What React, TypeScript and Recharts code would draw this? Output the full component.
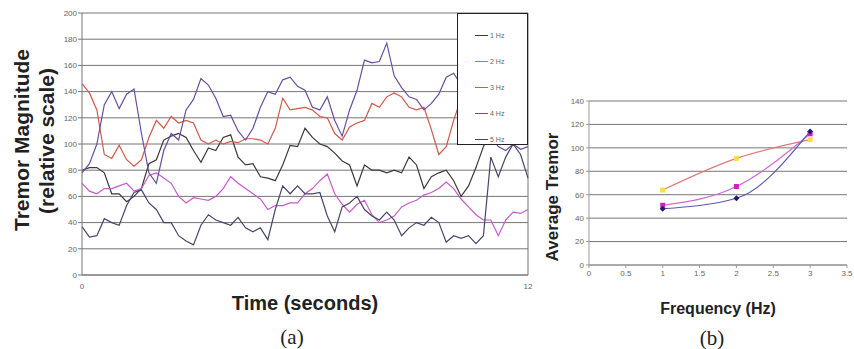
import React from 'react';
import { LineChart, Line, XAxis, YAxis, CartesianGrid, Legend, ReferenceLine } from 'recharts';

// (a) tremor traces, sampled every 0.2 s
const TIME = [
  0, 0.2, 0.4, 0.6, 0.8, 1, 1.2, 1.4, 1.6, 1.8, 2, 2.2, 2.4, 2.6, 2.8, 3, 3.2, 3.4, 3.6, 3.8,
  4, 4.2, 4.4, 4.6, 4.8, 5, 5.2, 5.4, 5.6, 5.8, 6, 6.2, 6.4, 6.6, 6.8, 7, 7.2, 7.4, 7.6, 7.8,
  8, 8.2, 8.4, 8.6, 8.8, 9, 9.2, 9.4, 9.6, 9.8, 10, 10.2, 10.4, 10.6, 10.8, 11, 11.2, 11.4, 11.6, 11.8, 12,
];
const HZ1 = [
  80, 82, 82, 78, 62, 62, 56, 60, 66, 85, 88, 103, 106, 108, 105, 95, 86, 97, 95, 105,
  107, 90, 84, 85, 75, 74, 72, 84, 99, 98, 112, 105, 100, 98, 93, 87, 84, 68, 84, 80,
  80, 78, 80, 78, 90, 84, 66, 75, 78, 80, 72, 60, 68, 82, 98, 110, 118, 120, 125, 118, 120,
];
const HZ2 = [
  70, 64, 62, 66, 66, 68, 70, 64, 66, 76, 78, 74, 70, 60, 55, 59, 58, 57, 60, 66,
  75, 70, 66, 62, 58, 50, 53, 53, 55, 55, 62, 66, 72, 77, 62, 54, 48, 54, 57, 46,
  40, 42, 45, 52, 55, 57, 61, 63, 66, 71, 66, 58, 52, 46, 42, 42, 30, 42, 48, 47, 50,
];
const HZ3 = [
  146, 139, 126, 92, 89, 99, 88, 83, 88, 105, 118, 112, 121, 116, 118, 116, 103, 100, 103, 100,
  102, 101, 104, 104, 103, 100, 112, 135, 126, 127, 128, 126, 121, 120, 108, 103, 113, 116, 118, 131,
  128, 136, 139, 136, 128, 126, 128, 111, 92, 98, 118, 135, 140, 138, 135, 140, 138, 132, 136, 130, 128,
];
const HZ4 = [
  78, 85, 100, 130, 140, 127, 138, 142, 108, 78, 70, 95, 108, 103, 126, 134, 150, 145, 135, 121,
  122, 110, 103, 112, 128, 140, 138, 149, 151, 144, 141, 128, 126, 136, 118, 106, 126, 141, 164, 162,
  163, 177, 152, 143, 136, 134, 126, 131, 138, 151, 154, 145, 135, 125, 115, 105, 98, 95, 100, 96, 98,
];
const HZ5 = [
  37, 29, 30, 43, 40, 38, 53, 63, 65, 55, 50, 40, 40, 30, 26, 23, 38, 46, 42, 40,
  38, 44, 36, 33, 36, 27, 50, 68, 62, 68, 62, 62, 63, 45, 33, 52, 55, 60, 50, 45,
  42, 48, 42, 30, 36, 40, 38, 44, 40, 25, 30, 28, 30, 24, 30, 90, 75, 90, 100, 92, 74,
];
const SERIES_A = [
  { key: 'hz1', name: '1 Hz', color: '#3a3a3a', values: HZ1 },
  { key: 'hz2', name: '2 Hz', color: '#c75ac7', values: HZ2 },
  { key: 'hz3', name: '3 Hz', color: '#d4574a', values: HZ3 },
  { key: 'hz4', name: '4 Hz', color: '#6a4e9e', values: HZ4 },
  { key: 'hz5', name: '5 Hz', color: '#46466c', values: HZ5 },
];
const Y_TICKS_A = [0, 20, 40, 60, 80, 100, 120, 140, 160, 180, 200];
const X_TICKS_A = [0, 12];

// (b) average tremor per frequency
const FREQ = [1, 2, 3];
const AVG_NAVY = [48, 57, 114];
const AVG_MAGENTA = [51, 67, 112];
const AVG_YELLOW = [64, 91, 107];
const Y_TICKS_B = [0, 20, 40, 60, 80, 100, 120, 140];
const X_TICKS_B = [0, 0.5, 1, 1.5, 2, 2.5, 3, 3.5];

const dataA = TIME.map((t, i) => {
  const row: any = { t };
  SERIES_A.forEach((s) => (row[s.key] = s.values[i]));
  return row;
});
const dataB = FREQ.map((f, i) => ({ f, navy: AVG_NAVY[i], magenta: AVG_MAGENTA[i], yellow: AVG_YELLOW[i] }));

const SANS = '"Liberation Sans", Arial, sans-serif';
const SERIF = '"Liberation Serif", "Times New Roman", serif';
const tickStyle = { fontSize: 8, fill: '#666', fontFamily: SANS };
const GRID = '#767676';

const LegendBox = (props: any) => {
  const { payload } = props;
  return (
    <div
      style={{
        width: 71,
        height: 132,
        boxSizing: 'border-box',
        border: '1px solid #222',
        background: '#fff',
        paddingTop: 8,
        fontFamily: SANS,
      }}
    >
      {(payload || []).map((p: any) => (
        <div key={p.value} style={{ display: 'flex', alignItems: 'center', height: 26, paddingLeft: 17 }}>
          <span style={{ display: 'inline-block', width: 13, height: 1, background: p.color, marginRight: 2 }} />
          <span style={{ fontSize: 7, color: '#666' }}>{p.value}</span>
        </div>
      ))}
    </div>
  );
};

const Diamond = (props: any) => {
  const { cx, cy, index } = props;
  if (cx == null || cy == null) return null;
  return (
    <polygon
      key={`d-${index}`}
      points={`${cx},${cy - 3} ${cx + 3},${cy} ${cx},${cy + 3} ${cx - 3},${cy}`}
      fill="#1c1c70"
    />
  );
};
const squareDot = (fill: string) => (props: any) => {
  const { cx, cy, index } = props;
  if (cx == null || cy == null) return null;
  return <rect key={`s-${fill}-${index}`} x={cx - 2.5} y={cy - 2.5} width={5} height={5} fill={fill} />;
};

const textBase: React.CSSProperties = {
  position: 'absolute',
  whiteSpace: 'nowrap',
  transform: 'translate(-50%, -50%)',
  color: '#222',
  lineHeight: 1,
};

export default function App() {
  return (
    <div style={{ position: 'absolute', left: 0, top: 0, width: 854, height: 349, background: '#fff', overflow: 'hidden' }}>
      <div style={{ position: 'absolute', left: 0, top: 0 }}>
        <LineChart width={540} height={300} data={dataA} margin={{ top: 13, right: 12, bottom: 5, left: 52 }}>
          <CartesianGrid vertical={false} stroke={GRID} />
          <XAxis
            dataKey="t"
            type="number"
            domain={[0, 12]}
            ticks={X_TICKS_A}
            height={20}
            tick={tickStyle}
            tickLine={false}
            axisLine={{ stroke: GRID }}
          />
          <YAxis
            type="number"
            domain={[0, 200]}
            ticks={Y_TICKS_A}
            width={30}
            tick={tickStyle}
            tickSize={4}
            tickMargin={1}
            axisLine={{ stroke: GRID }}
            tickLine={{ stroke: GRID }}
          />
          <ReferenceLine x={12} stroke={GRID} />
          {SERIES_A.map((s) => (
            <Line
              key={s.key}
              dataKey={s.key}
              name={s.name}
              stroke={s.color}
              strokeWidth={1.2}
              dot={false}
              type="linear"
              isAnimationActive={false}
            />
          ))}
          <Legend
            layout="vertical"
            align="center"
            verticalAlign="middle"
            content={LegendBox}
            wrapperStyle={{ left: 457, top: 13, width: 71, height: 132 }}
          />
        </LineChart>
      </div>

      <div style={{ position: 'absolute', left: 540, top: 80 }}>
        <LineChart width={314} height={210} data={dataB} margin={{ top: 21, right: 7, bottom: 5, left: 19 }}>
          <CartesianGrid vertical={false} stroke={GRID} />
          <XAxis
            dataKey="f"
            type="number"
            domain={[0, 3.5]}
            ticks={X_TICKS_B}
            height={20}
            tick={tickStyle}
            tickSize={3}
            axisLine={{ stroke: '#999' }}
            tickLine={{ stroke: '#999' }}
          />
          <YAxis
            type="number"
            domain={[0, 140]}
            ticks={Y_TICKS_B}
            width={30}
            tick={tickStyle}
            tickSize={3}
            axisLine={{ stroke: '#999' }}
            tickLine={{ stroke: '#999' }}
          />
          <Line dataKey="yellow" type="monotone" stroke="#e07a7a" strokeWidth={1.2} dot={squareDot('#f4e040')} isAnimationActive={false} />
          <Line dataKey="magenta" type="monotone" stroke="#d06ad0" strokeWidth={1.2} dot={squareDot('#d020c8')} isAnimationActive={false} />
          <Line dataKey="navy" type="monotone" stroke="#5a5aae" strokeWidth={1.2} dot={Diamond} isAnimationActive={false} />
        </LineChart>
      </div>

      <div style={{ ...textBase, left: 21, top: 140, fontFamily: SANS, fontWeight: 700, fontSize: 21, transform: 'translate(-50%, -50%) rotate(-90deg)' }}>
        Tremor Magnitude
      </div>
      <div style={{ ...textBase, left: 46, top: 141, fontFamily: SANS, fontWeight: 700, fontSize: 21, transform: 'translate(-50%, -50%) rotate(-90deg)' }}>
        (relative scale)
      </div>
      <div style={{ ...textBase, left: 305, top: 303, fontFamily: SANS, fontWeight: 700, fontSize: 20 }}>Time (seconds)</div>
      <div style={{ ...textBase, left: 292, top: 337, fontFamily: SERIF, fontSize: 21 }}>(a)</div>

      <div style={{ ...textBase, left: 552, top: 197, fontFamily: SANS, fontWeight: 700, fontSize: 17, transform: 'translate(-50%, -50%) rotate(-90deg)' }}>
        Average Tremor
      </div>
      <div style={{ ...textBase, left: 718, top: 309, fontFamily: SANS, fontWeight: 700, fontSize: 16 }}>Frequency (Hz)</div>
      <div style={{ ...textBase, left: 712, top: 338, fontFamily: SERIF, fontSize: 21 }}>(b)</div>
    </div>
  );
}
